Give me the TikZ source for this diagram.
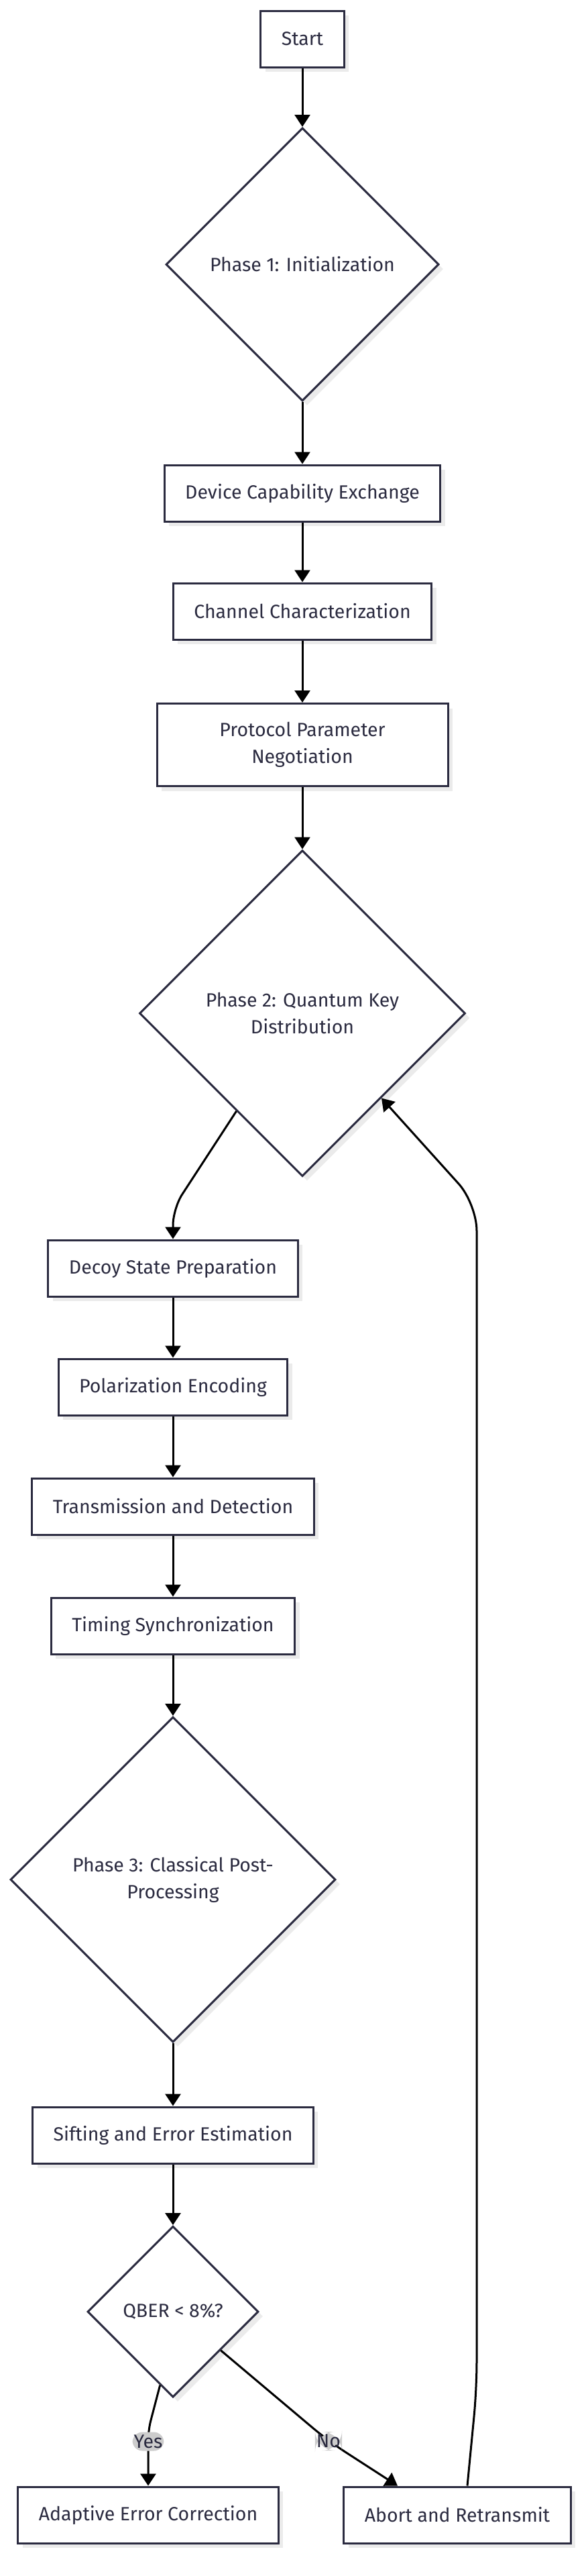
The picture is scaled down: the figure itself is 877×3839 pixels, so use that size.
\documentclass[tikz,border=0pt]{standalone}
\usepackage{fontspec}
\setmainfont{Fira Sans}
\usetikzlibrary{arrows.meta,shapes.geometric,shadows}
\definecolor{ink}{HTML}{2B2B40}
\definecolor{lblgray}{HTML}{CCCCCC}
\definecolor{shade}{HTML}{EBEBEB}
\tikzset{
  flowshadow/.style={drop shadow={shadow xshift=7pt,shadow yshift=-7pt,fill=shade,opacity=1}},
  box/.style={rectangle,draw=ink,line width=3pt,fill=white,text=ink,flowshadow,
    inner xsep=31pt,inner ysep=0pt,minimum height=84pt,align=center},
  phase/.style={diamond,aspect=1,draw=ink,line width=3pt,fill=white,text=ink,flowshadow,
    inner sep=0pt,align=center},
  lbl/.style={fill=lblgray,text=ink,inner xsep=2pt,inner ysep=4pt}
}
\begin{document}
\begin{tikzpicture}[x=1pt,y=1pt,>={Triangle[length=18pt,width=23pt]},line width=3pt,
  font=\fontsize{28.5}{40}\selectfont]
	\useasboundingbox (0,0) rectangle (877,-3839);
	\node[box] (start) at (451,-58) {Start};
	\node[phase,minimum size=407pt] (init) at (451,-394) {Phase 1: Initialization};
	\node[box] (dev) at (451,-735) {Device Capability Exchange};
	\node[box] (chan) at (451,-911) {Channel Characterization};
	\node[box,minimum height=123pt,minimum width=434pt] (proto) at (451,-1110) {Protocol Parameter\\Negotiation};
	\node[phase,minimum size=486pt] (qkd) at (451,-1510) {Phase 2: Quantum Key\\Distribution};
	\node[box] (decoy) at (258,-1890) {Decoy State Preparation};
	\node[box] (polar) at (258,-2067) {Polarization Encoding};
	\node[box] (trans) at (258,-2245) {Transmission and Detection};
	\node[box] (timing) at (258,-2423) {Timing Synchronization};
	\node[phase,minimum size=485pt] (post) at (258,-2801) {Phase 3: Classical Post-\\Processing};
	\node[box] (sift) at (258,-3182) {Sifting and Error Estimation};
	\node[phase,minimum size=255pt] (qber) at (258,-3445) {QBER < 8\%?};
	\node[box] (adapt) at (221,-3748) {Adaptive Error Correction};
	\node[box] (abort) at (682,-3748) {Abort and Retransmit};
	\draw[->] (start) -- (init);
	\draw[->] (init) -- (dev);
	\draw[->] (dev) -- (chan);
	\draw[->] (chan) -- (proto);
	\draw[->] (proto) -- (qkd);
	\draw[->,rounded corners=25pt] (qkd.236) -- (258,-1801) -- (decoy);
	\draw[->] (decoy) -- (polar);
	\draw[->] (polar) -- (trans);
	\draw[->] (trans) -- (timing);
	\draw[->] (timing) -- (post);
	\draw[->] (post) -- (sift);
	\draw[->] (sift) -- (qber);
	\draw[->,rounded corners=15pt] (qber.260) -- (221,-3622) -- node[lbl,pos=0.2] (yes) {Yes} (adapt);
	\draw[->,rounded corners=30pt] (qber.321) -- (490,-3638) node[lbl] (no) {No} -- ([xshift=-89pt]abort.north);
	\draw[->,rounded corners=40pt] ([xshift=15pt]abort.north) -- (711,-3560) -- (711,-1794) -- (qkd.313);
\end{tikzpicture}
\end{document}
